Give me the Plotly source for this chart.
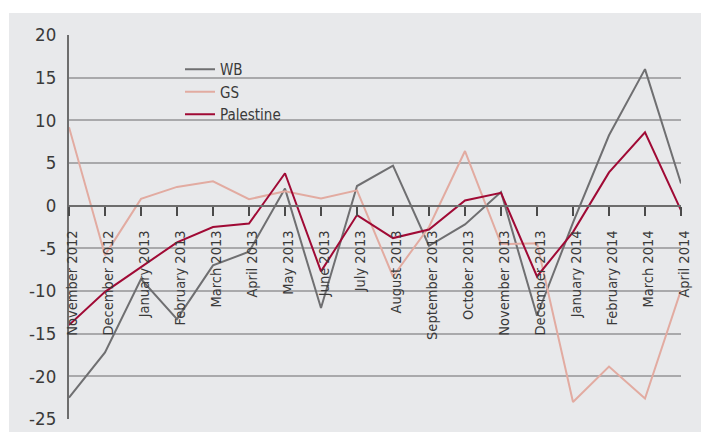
import plotly.graph_objects as go

months = ["November 2012", "December 2012", "January 2013", "February 2013", "March 2013",
          "April 2013", "May 2013", "June 2013", "July 2013", "August 2013",
          "September 2013", "October 2013", "November 2013", "December 2013",
          "January 2014", "February 2014", "March 2014", "April 2014"]

wb = [-22.5, -17.2, -8.6, -13.3, -7.0, -5.4, 2.0, -12.0, 2.3, 4.7,
      -4.7, -2.2, 1.6, -12.9, -2.0, 8.25, 16.0, 2.6]
gs = [9.2, -5.8, 0.8, 2.2, 2.85, 0.75, 1.7, 0.85, 1.8, -8.3,
      -2.5, 6.4, -4.5, -4.4, -23.0, -18.85, -22.6, -9.9]
palestine = [-14.0, -10.1, -7.2, -4.3, -2.5, -2.1, 3.8, -7.7, -1.1, -3.8,
             -2.8, 0.6, 1.5, -8.3, -3.1, 3.9, 8.6, -0.55]

y_ticks = [20, 15, 10, 5, 0, -5, -10, -15, -20, -25]
y_min, y_max = -25, 20

FONT = "DejaVu Sans Condensed, Liberation Sans Narrow, sans-serif"
TXT = "#3a3a3a"

fig = go.Figure()
fig.add_trace(go.Scatter(x=months, y=wb, name="WB", mode="lines",
                         line=dict(color="#6f6f71", width=2)))
fig.add_trace(go.Scatter(x=months, y=gs, name="GS", mode="lines",
                         line=dict(color="#e2aba1", width=2)))
fig.add_trace(go.Scatter(x=months, y=palestine, name="Palestine", mode="lines",
                         line=dict(color="#a00a35", width=2)))

W, H = 701, 432
ml, mr, mt, mb = 69, 20, 35, 13
pw, ph = W - ml - mr, H - mt - mb

fig.add_shape(type="rect", xref="paper", yref="paper", layer="below",
              x0=(9 - ml) / pw, x1=(W - ml) / pw,
              y0=-(mb) / ph, y1=1 + (mt - 13) / ph,
              line=dict(width=0), fillcolor="#e8e9eb")

fig.update_layout(
    width=W, height=H,
    margin=dict(l=ml, r=mr, t=mt, b=mb, autoexpand=False),
    paper_bgcolor="white",
    plot_bgcolor="rgba(0,0,0,0)",
    font=dict(family=FONT, color=TXT),
    showlegend=True,
    legend=dict(x=(180 - ml) / pw, y=(H - mb - 53) / ph, xanchor="left", yanchor="top",
                bgcolor="rgba(0,0,0,0)", font=dict(size=15, family=FONT, color=TXT),
                tracegroupgap=0, itemwidth=30),
    xaxis=dict(
        type="category", categoryorder="array", categoryarray=months,
        range=[0, len(months) - 1], automargin=False,
        anchor="free", position=(0 - y_min) / (y_max - y_min),
        showline=True, linecolor="#6d6d6d", linewidth=2,
        showgrid=False, zeroline=False,
        ticks="outside", ticklen=9, tickwidth=2, tickcolor="#4a4a4a",
        tickangle=-90, tickfont=dict(size=14.5, family=FONT, color=TXT),
        tickmode="array", tickvals=months, ticktext=months,
        ticklabelshift=3, ticklabelstandoff=9,
    ),
    yaxis=dict(
        range=[y_min, y_max], tickmode="array", tickvals=y_ticks,
        ticktext=[str(v) for v in y_ticks], automargin=False,
        showline=True, linecolor="#6d6d6d", linewidth=2,
        showgrid=True, gridcolor="#a9a9ab", gridwidth=1.5,
        zeroline=False, ticks="", ticklabelstandoff=7,
        tickfont=dict(size=18.5, family=FONT, color=TXT),
    ),
)

fig.write_html("out.html")
